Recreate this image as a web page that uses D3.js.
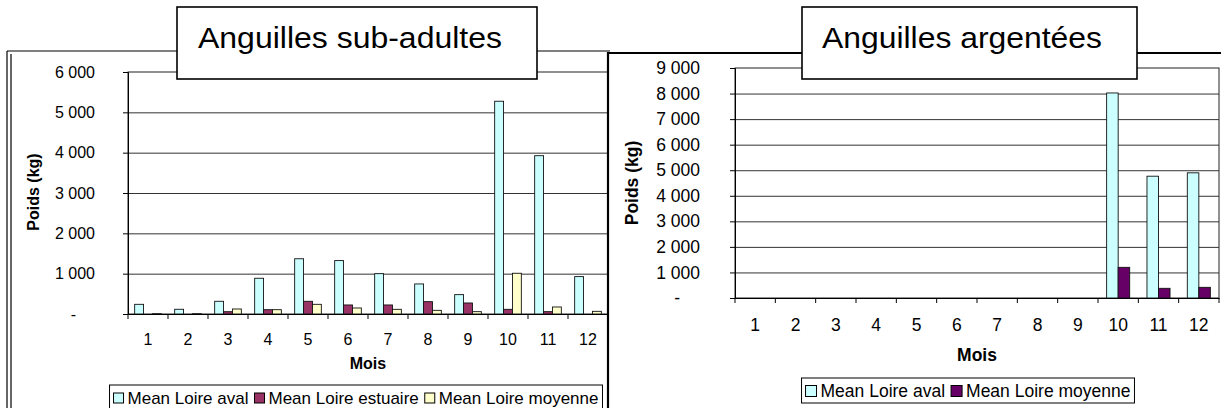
<!DOCTYPE html>
<meta charset="utf-8">
<style>
body {
  margin: 0;
  background: #fff;
}

svg {
  display: block;
  font-family: 'Liberation Sans', Arial, sans-serif;
}

text {
  fill: #000;
}

.grid line {
  stroke: #333;
  stroke-width: 1;
}

.axis-title {
  font-weight: bold;
}
</style>
<body>
<svg width="1221" height="408"></svg>

<script src="https://d3js.org/d3.v7.min.js"></script>
<script>

// months on the x axis
const months = ['1', '2', '3', '4', '5', '6', '7', '8', '9', '10', '11', '12'];

// left chart : Anguilles sub-adultes
const subSeries = ['Mean Loire aval', 'Mean Loire estuaire', 'Mean Loire moyenne'];
const subAval = [240, 117, 315, 886, 1370, 1324, 1000, 745, 480, 5275, 3925, 927];
const subEstuaire = [0, 0, 57, 107, 315, 224, 224, 306, 273, 116, 58, 0];
const subMoyenne = [8, 8, 124, 107, 240, 149, 116, 91, 58, 1010, 174, 66];
const subTicks = [0, 1000, 2000, 3000, 4000, 5000, 6000];

// right chart : Anguilles argentées
const argSeries = ['Mean Loire aval', 'Mean Loire moyenne'];
const argAval = [0, 0, 0, 0, 0, 0, 0, 0, 0, 8023, 4766, 4898];
const argMoyenne = [0, 0, 0, 0, 0, 0, 0, 0, 0, 1200, 379, 418];
const argTicks = [0, 1000, 2000, 3000, 4000, 5000, 6000, 7000, 8000, 9000];

const svg = d3.select('svg');

const fmt = d => d === 0 ? '-' : d3.format(',')(d).replace(/,/g, ' ');

function drawFrameLeft() {
  const f = svg.append('g').attr('stroke', '#000').attr('fill', 'none');
  f.append('line').attr('x1', 7).attr('x2', 7).attr('y1', 51).attr('y2', 410).attr('stroke-width', 1.2);
  f.append('line').attr('x1', 11).attr('x2', 11).attr('y1', 54).attr('y2', 410).attr('stroke-width', 1.2);
  f.append('line').attr('x1', 7).attr('x2', 610).attr('y1', 51).attr('y2', 51).attr('stroke-width', 1.2);
}

function drawFrameRight() {
  const f = svg.append('g').attr('stroke', '#000').attr('fill', 'none');
  f.append('path')
    .attr('d', 'M608,410 L608,53 L1223,53')
    .attr('stroke-width', 2.2);
}

function drawChart(c) {
  const g = svg.append('g');
  const max = d3.max(c.ticks);

  const x = d3.scaleBand()
    .domain(months)
    .range([c.left, c.right]);

  const xs = d3.scaleBand()
    .domain(c.series)
    .range([0, x.bandwidth()])
    .paddingOuter(0.75);

  const y = d3.scaleLinear()
    .domain([0, max])
    .range([c.bottom, c.top]);

  // plot area
  g.append('rect')
    .attr('x', c.left)
    .attr('y', c.top)
    .attr('width', c.right - c.left)
    .attr('height', c.bottom - c.top)
    .attr('fill', '#fff')
    .attr('stroke', '#222')
    .attr('stroke-width', 1);

  g.append('g')
    .attr('class', 'grid')
    .attr('transform', `translate(${c.left},0)`)
    .call(d3.axisLeft(y)
      .tickValues(c.ticks.filter(t => t > 0 && t < max))
      .tickSize(-(c.right - c.left))
      .tickFormat(''))
    .call(s => s.select('.domain').remove());

  // bars
  c.series.forEach((name, i) => {
    g.append('g')
      .selectAll('rect')
      .data(months.map((m, j) => ({ m: m, v: c.values[i][j] })).filter(d => d.v > 0))
      .join('rect')
      .attr('x', d => x(d.m) + xs(name))
      .attr('y', d => y(d.v))
      .attr('width', xs.bandwidth())
      .attr('height', d => y(0) - y(d.v))
      .attr('fill', c.colors[i])
      .attr('stroke', '#111')
      .attr('stroke-width', 0.9);
  });

  // y axis
  const ya = g.append('g')
    .attr('transform', `translate(${c.left},0)`)
    .call(d3.axisLeft(y)
      .tickValues(c.ticks)
      .tickSize(5)
      .tickPadding(c.yPad)
      .tickFormat(fmt));
  ya.attr('font-family', null).attr('font-size', c.fs);
  ya.selectAll('line, path').attr('stroke', '#000');
  ya.selectAll('.tick').filter(d => d === 0).select('text').attr('dx', c.zeroShift);

  // x axis, labels centred, ticks between categories
  const xa = g.append('g')
    .attr('transform', `translate(0,${c.bottom})`)
    .call(d3.axisBottom(x).tickSize(0).tickPadding(c.xPad));
  xa.attr('font-family', null).attr('font-size', c.fs);
  xa.select('.domain').attr('stroke', '#000');

  g.append('g')
    .selectAll('line')
    .data(months.map(m => x(m)).concat([x.range()[1]]))
    .join('line')
    .attr('x1', d => d)
    .attr('x2', d => d)
    .attr('y1', c.bottom)
    .attr('y2', c.bottom + 5)
    .attr('stroke', '#000');

  // axis titles
  g.append('text')
    .attr('class', 'axis-title')
    .attr('transform', `translate(${c.yTitleX},${c.yTitleY}) rotate(-90)`)
    .attr('text-anchor', 'middle')
    .attr('dy', '0.35em')
    .attr('font-size', c.fs)
    .text('Poids (kg)');

  g.append('text')
    .attr('class', 'axis-title')
    .attr('x', (c.left + c.right) / 2)
    .attr('y', c.xTitleY)
    .attr('text-anchor', 'middle')
    .attr('dy', '0.35em')
    .attr('font-size', c.fs)
    .text('Mois');

  // legend
  const lg = g.append('g');
  const box = lg.append('rect')
    .attr('fill', '#fff')
    .attr('stroke', '#000')
    .attr('stroke-width', 1);
  let cx = 0;
  c.series.forEach((name, i) => {
    lg.append('rect')
      .attr('x', cx)
      .attr('y', c.legendY - c.sq / 2)
      .attr('width', c.sq)
      .attr('height', c.sq)
      .attr('fill', c.colors[i])
      .attr('stroke', '#000')
      .attr('stroke-width', 1);
    const t = lg.append('text')
      .attr('x', cx + c.sq + 4)
      .attr('y', c.legendY)
      .attr('dy', '0.35em')
      .attr('font-size', c.legendFs)
      .text(name);
    cx += c.sq + 4 + t.node().getComputedTextLength() + 6;
  });
  const legendW = cx - 6;
  const lx = c.legendCx - legendW / 2;
  lg.selectAll('rect:not(:first-child), text').attr('transform', `translate(${lx},0)`);
  box.attr('x', lx - 4)
    .attr('y', c.legendTop)
    .attr('width', legendW + 8)
    .attr('height', c.legendH);
}

function drawTitle(b) {
  svg.append('rect')
    .attr('x', b.x)
    .attr('y', b.y)
    .attr('width', b.w)
    .attr('height', b.h)
    .attr('fill', '#fff')
    .attr('stroke', '#000')
    .attr('stroke-width', 1.6);
  svg.append('text')
    .attr('x', b.tx)
    .attr('y', b.ty)
    .attr('font-size', b.fs)
    .attr('textLength', b.tw)
    .attr('lengthAdjust', 'spacingAndGlyphs')
    .text(b.text);
}

drawFrameLeft();

drawChart({
  left: 128, right: 608, top: 72, bottom: 314,
  ticks: subTicks,
  series: subSeries,
  values: [subAval, subEstuaire, subMoyenne],
  colors: ['#CCFFFF', '#993366', '#FFFFCC'],
  fs: 16, yPad: 28, xPad: 20, zeroShift: -19,
  yTitleX: 33, yTitleY: 192, xTitleY: 363,
  legendCx: 356, legendY: 398, legendTop: 385, legendH: 26, legendFs: 17, sq: 10
});

drawFrameRight();

drawChart({
  left: 735, right: 1219, top: 68, bottom: 298,
  ticks: argTicks,
  series: argSeries,
  values: [argAval, argMoyenne],
  colors: ['#CCFFFF', '#660066'],
  fs: 17.5, yPad: 30, xPad: 21, zeroShift: -20,
  yTitleX: 632, yTitleY: 183, xTitleY: 355,
  legendCx: 968, legendY: 391, legendTop: 378, legendH: 25, legendFs: 17.5, sq: 11
});

drawTitle({ x: 177, y: 7, w: 360, h: 72, tx: 198, ty: 48, tw: 304, fs: 30, text: 'Anguilles sub-adultes' });
drawTitle({ x: 802, y: 7, w: 335, h: 72, tx: 822, ty: 48, tw: 280, fs: 30, text: 'Anguilles argentées' });

</script>
</body>
